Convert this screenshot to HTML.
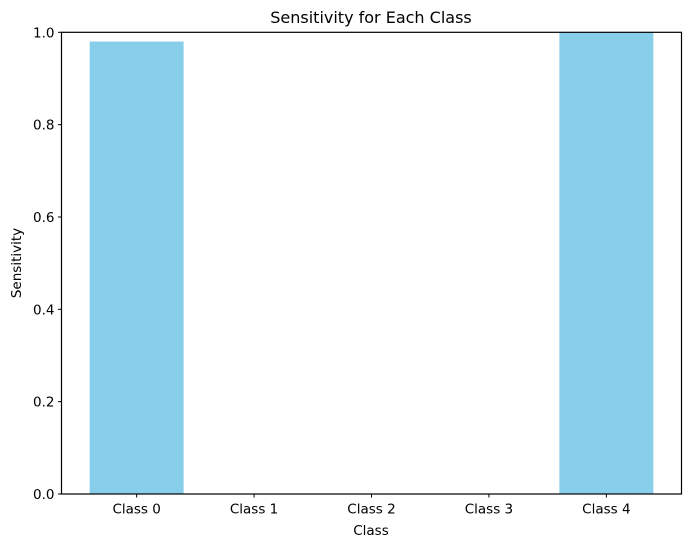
<!DOCTYPE html>
<html><head><meta charset="utf-8"><style>
body{margin:0;background:#fff;}
svg{display:block;font-family:"DejaVu Sans","Liberation Sans",sans-serif;}
</style></head><body>
<svg id="chart" width="691" height="547">
<text x="371" y="23" text-anchor="middle" font-size="16">Sensitivity for Each Class</text>
<g id="bars"></g>
<g id="xticks"></g>
<g id="yticks"></g>
<rect x="61.5" y="32.3" width="620" height="461.7" fill="none" stroke="#000" stroke-width="1.2"/>
<text x="371" y="535" text-anchor="middle" font-size="13.5">Class</text>
<text transform="translate(21,263) rotate(-90)" text-anchor="middle" font-size="13.5">Sensitivity</text>
</svg>
<script>
const categories=["Class 0","Class 1","Class 2","Class 3","Class 4"];
const values=[0.98,0,0,0,1.0];
const yTicks=[0,0.2,0.4,0.6,0.8,1.0];
const L=61.5,R=681.5,T=32.3,B=494;
const xs=v=>L+(v+0.64)/5.28*(R-L);
const ys=v=>B-v*(B-T);
const ns="http://www.w3.org/2000/svg";
const bars=document.getElementById('bars'),xt=document.getElementById('xticks'),yt=document.getElementById('yticks');
const bw=0.8/5.28*(R-L);
categories.forEach((c,i)=>{
 const r=document.createElementNS(ns,'rect');
 r.setAttribute('x',xs(i)-bw/2);r.setAttribute('y',ys(values[i]));
 r.setAttribute('width',bw);r.setAttribute('height',B-ys(values[i]));
 r.setAttribute('fill','#87ceeb');
 
 
 bars.appendChild(r);
 const l=document.createElementNS(ns,'line');
 l.setAttribute('x1',xs(i));l.setAttribute('x2',xs(i));l.setAttribute('y1',B);l.setAttribute('y2',B+3.5);l.setAttribute('stroke','#000');
 
 
 xt.appendChild(l);
 const t=document.createElementNS(ns,'text');
 t.setAttribute('x',xs(i));t.setAttribute('y',B+19.5);t.setAttribute('text-anchor','middle');t.setAttribute('font-size','13.5');
 t.textContent=c;
 
 
 xt.appendChild(t);
});
yTicks.forEach(v=>{
 const l=document.createElementNS(ns,'line');
 l.setAttribute('x1',L-3.5);l.setAttribute('x2',L);l.setAttribute('y1',ys(v));l.setAttribute('y2',ys(v));l.setAttribute('stroke','#000');
 
 
 yt.appendChild(l);
 const t=document.createElementNS(ns,'text');
 t.setAttribute('x',L-7);t.setAttribute('y',ys(v)+5);t.setAttribute('text-anchor','end');t.setAttribute('font-size','13.5');
 t.textContent=v.toFixed(1);
 
 
 yt.appendChild(t);
});
</script>
</body></html>
